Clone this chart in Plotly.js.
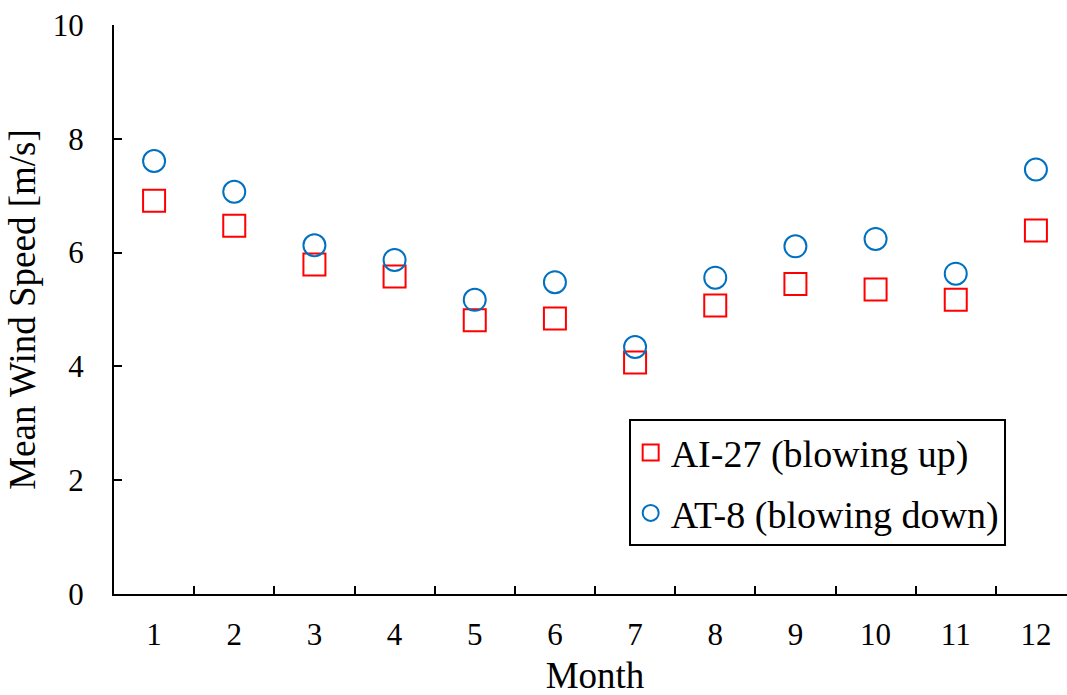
<!DOCTYPE html>
<html>
<head>
<meta charset="utf-8">
<script src="https://cdn.plot.ly/plotly-3.0.1.min.js"></script>
<style>
html,body{margin:0;padding:0;overflow:hidden;background:#fff;width:1067px;height:695px;}
#chart{width:1090px;height:712px;}
</style>
</head>
<body>
<div id="chart"></div>
<script>
const months = [1,2,3,4,5,6,7,8,9,10,11,12];
const monthLabels = ["1","2","3","4","5","6","7","8","9","10","11","12"];
const ai27 = [6.91,6.47,5.79,5.58,4.81,4.84,4.07,5.07,5.45,5.35,5.17,6.39];
const at8  = [7.61,7.07,6.13,5.87,5.17,5.48,4.34,5.56,6.11,6.24,5.63,7.46];
const seriesNames = ["AI-27 (blowing up)","AT-8 (blowing down)"];
const yTicks = [0,2,4,6,8,10];

const boundaries = months.slice(1).map(m => m - 0.5);
const FONT = "Liberation Serif, Times New Roman, serif";

const traces = [
  {x: months, y: ai27, name: seriesNames[0], type: "scatter", mode: "markers",
   legendgroup: "a",
   marker: {symbol: "square-open", size: 22, color: "#FF0000", line: {width: 2, color: "#FF0000"}}},
  {x: months, y: at8, name: seriesNames[1], type: "scatter", mode: "markers",
   legendgroup: "b",
   marker: {symbol: "circle-open", size: 22, color: "#0070C0", line: {width: 2, color: "#0070C0"}}}
];

const layout = {
  width: 1090, height: 712,
  margin: {l: 114, r: 14, t: 25, b: 118},
  paper_bgcolor: "#fff", plot_bgcolor: "#fff",
  font: {family: FONT, color: "#000", size: 31},
  showlegend: true,
  legend: {
    x: 0.535, y: 0.307, xanchor: "left", yanchor: "top",
    bordercolor: "#000", borderwidth: 2, bgcolor: "#fff",
    font: {family: FONT, size: 38, color: "#000"},
    traceorder: "grouped", tracegroupgap: 8
  },
  xaxis: {
    range: [0.5, 12.5], tickvals: months, ticktext: monthLabels,
    ticks: "", showgrid: false, zeroline: false,
    showline: true, linecolor: "#000", linewidth: 2,
    ticklabelstandoff: 12,
    tickfont: {family: FONT, size: 31, color: "#000"},
    title: {text: "Month", font: {family: FONT, size: 37, color: "#000"}, standoff: 11},
    fixedrange: true
  },
  xaxis2: {
    range: [0.5, 12.5], overlaying: "x", anchor: "y", side: "bottom",
    tickvals: boundaries, ticks: "inside", ticklen: 8, tickwidth: 2, tickcolor: "#000",
    showticklabels: false, showgrid: false, zeroline: false, showline: false
  },
  yaxis: {
    range: [0, 10], tickvals: yTicks,
    ticks: "inside", ticklen: 8, tickwidth: 2, tickcolor: "#000",
    showgrid: false, zeroline: false,
    showline: true, linecolor: "#000", linewidth: 2,
    ticklabelstandoff: 22,
    tickfont: {family: FONT, size: 31, color: "#000"},
    title: {text: "Mean Wind Speed [m/s]", font: {family: FONT, size: 37, color: "#000"}, standoff: 6},
    fixedrange: true
  }
};

traces.push({x: [], y: [], xaxis: "x2", yaxis: "y", showlegend: false, hoverinfo: "skip", type: "scatter", mode: "markers"});

Plotly.newPlot("chart", traces, layout, {displayModeBar: false, staticPlot: true});
</script>
</body>
</html>
